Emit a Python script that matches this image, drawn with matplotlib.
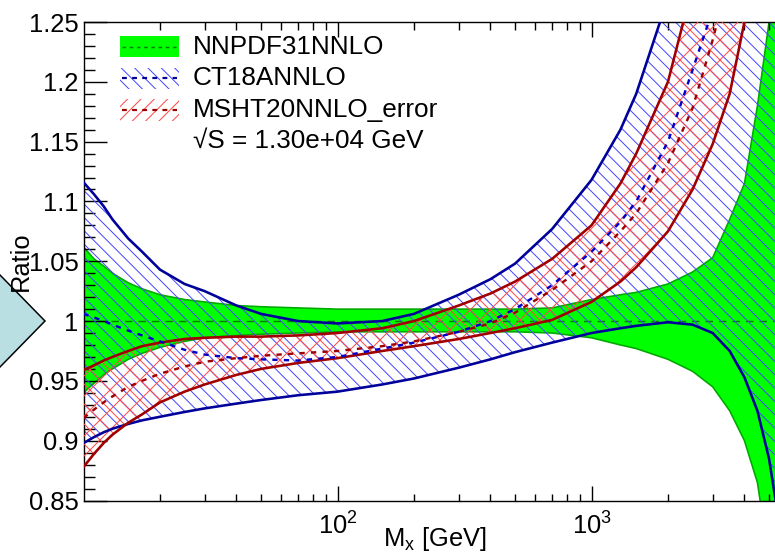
import numpy as np
import matplotlib
matplotlib.use('Agg')
import matplotlib.pyplot as plt
from matplotlib.patches import Polygon, Rectangle
from matplotlib.lines import Line2D
from matplotlib.ticker import FixedLocator, FixedFormatter, LogLocator, NullFormatter, MultipleLocator

# ---------------- data ----------------
mass = [10, 11, 12, 13, 15, 17, 20, 25, 30, 40, 50, 70, 100, 150, 200, 300, 400, 500,
        700, 1000, 1300, 1500, 2000, 2500, 3000, 3500, 4000, 4500, 5000, 5400]

nnpdf_up = [1.062, 1.052, 1.046, 1.040, 1.032, 1.027, 1.022, 1.018, 1.016, 1.013, 1.012, 1.011,
            1.010, 1.010, 1.010, 1.010, 1.010, 1.010, 1.011, 1.018, 1.022, 1.024, 1.031, 1.041,
            1.053, 1.085, 1.115, 1.180, 1.250, 1.310]
nnpdf_lo = [0.940, 0.948, 0.955, 0.960, 0.968, 0.973, 0.978, 0.983, 0.986, 0.988, 0.989, 0.990,
            0.991, 0.991, 0.991, 0.991, 0.991, 0.991, 0.990, 0.986, 0.980, 0.977, 0.968, 0.958,
            0.945, 0.925, 0.900, 0.865, 0.800, 0.750]
nnpdf_central = 1.0

ct18_up = [1.116, 1.106, 1.096, 1.085, 1.069, 1.058, 1.043, 1.031, 1.025, 1.013, 1.006, 1.000,
           0.998, 1.000, 1.006, 1.022, 1.035, 1.048, 1.077, 1.118, 1.160, 1.190, 1.270, 1.360,
           1.450, 1.550, 1.650, 1.750, 1.850, 1.900]
ct18_lo = [0.898, 0.903, 0.907, 0.910, 0.914, 0.917, 0.920, 0.924, 0.927, 0.931, 0.934, 0.938,
           0.941, 0.947, 0.952, 0.961, 0.968, 0.974, 0.982, 0.990, 0.994, 0.996, 0.999, 0.997,
           0.990, 0.975, 0.953, 0.925, 0.885, 0.840]
ct18_c = [1.006, 1.003, 1.000, 0.997, 0.992, 0.988, 0.983, 0.976, 0.972, 0.969, 0.968, 0.967,
          0.970, 0.977, 0.982, 0.991, 1.000, 1.010, 1.030, 1.058, 1.083, 1.100, 1.150, 1.210,
          1.260, 1.320, 1.380, 1.440, 1.500, 1.550]

msht_up = [0.959, 0.963, 0.967, 0.970, 0.975, 0.979, 0.982, 0.985, 0.986, 0.987, 0.987, 0.988,
           0.990, 0.994, 1.000, 1.013, 1.023, 1.033, 1.052, 1.080, 1.115, 1.140, 1.200, 1.280,
           1.360, 1.450, 1.550, 1.650, 1.750, 1.800]
msht_lo = [0.878, 0.889, 0.898, 0.905, 0.915, 0.922, 0.932, 0.941, 0.947, 0.955, 0.960, 0.965,
           0.969, 0.975, 0.979, 0.985, 0.990, 0.994, 1.001, 1.016, 1.033, 1.045, 1.075, 1.110,
           1.148, 1.190, 1.250, 1.320, 1.400, 1.450]
msht_c = [0.919, 0.926, 0.932, 0.937, 0.945, 0.950, 0.956, 0.962, 0.966, 0.969, 0.971, 0.973,
          0.975, 0.979, 0.983, 0.991, 0.998, 1.007, 1.026, 1.050, 1.075, 1.090, 1.132, 1.178,
          1.235, 1.290, 1.350, 1.410, 1.470, 1.520]

legend_labels = ['NNPDF31NNLO', 'CT18ANNLO', 'MSHT20NNLO_error', '\u221aS = 1.30e+04 GeV']
x_ticks = [100, 1000]
x_ticklabels = ['$10^{2}$', '$10^{3}$']
y_ticks = [0.85, 0.9, 0.95, 1.0, 1.05, 1.1, 1.15, 1.2, 1.25]
y_ticklabels = ['0.85', '0.9', '0.95', '1', '1.05', '1.1', '1.15', '1.2', '1.25']

# ---------------- style ----------------
W, H, DPI = 775, 555, 120
PT = 72.0 / DPI          # points per pixel
FS = 15.3

plt.rcParams['font.family'] = ['Liberation Sans', 'DejaVu Sans']
plt.rcParams['mathtext.fontset'] = 'custom'
plt.rcParams['mathtext.rm'] = 'Liberation Sans'
plt.rcParams['mathtext.it'] = 'Liberation Sans:italic'
plt.rcParams['mathtext.bf'] = 'Liberation Sans:bold'
plt.rcParams['hatch.linewidth'] = 1.0 * PT

GREEN = '#00ff00'
GREEN_EDGE = '#00a800'
GREEN_DASH = '#008000'
BLUE_HATCH = '#4848ff'
NAVY = '#00009a'
BLUE_DASH = '#0000c8'
RED_HATCH = '#ff4848'
DARKRED = '#a00000'

fig = plt.figure(figsize=(W / DPI, H / DPI), dpi=DPI)

def fx(p):
    return p / W

def fy(p):
    return 1 - p / H

# background diamond shape at left
fig.patches.append(Polygon([(fx(-46), fy(321)), (fx(0), fy(275)), (fx(45), fy(321)), (fx(0), fy(367))],
                           closed=True, transform=fig.transFigure, facecolor='#b9dfe3',
                           edgecolor='black', linewidth=1.5 * PT, zorder=0))

left_px, right_px, top_px, bot_px = 83.5, 775, 22, 500.5
ax = fig.add_axes([fx(left_px), fy(bot_px), (right_px - left_px) / W, (bot_px - top_px) / H])
ax.set_facecolor('none')
ax.set_xscale('log')
decade_px = 254.0
ax.set_xlim(10, 10 ** (1 + (right_px - left_px) / decade_px))
ax.set_ylim(0.85, 1.25)

# bands
ax.fill_between(mass, nnpdf_lo, nnpdf_up, facecolor=GREEN, edgecolor=GREEN_EDGE,
                linewidth=1.6 * PT, zorder=1)
ax.axhline(nnpdf_central, color=GREEN_DASH, lw=1.5 * PT, dashes=(5 * 1.0, 4 * 1.0), zorder=1.5)
ax.fill_between(mass, ct18_lo, ct18_up, facecolor='none', edgecolor=BLUE_HATCH,
                linewidth=0, hatch='\\\\\\', zorder=2)
ax.fill_between(mass, msht_lo, msht_up, facecolor='none', edgecolor=RED_HATCH,
                linewidth=0, hatch='xx', zorder=3)

# lines
for arr in (ct18_up, ct18_lo):
    ax.plot(mass, arr, color=NAVY, lw=2.6 * PT, zorder=5)
ax.plot(mass, ct18_c, color=BLUE_DASH, lw=2.4 * PT, dashes=(2.2, 2.6), zorder=6)
for arr in (msht_up, msht_lo):
    ax.plot(mass, arr, color=DARKRED, lw=2.6 * PT, zorder=5)
ax.plot(mass, msht_c, color=DARKRED, lw=2.4 * PT, dashes=(2.2, 2.6), zorder=6)

# axes styling
for s in ('left', 'bottom', 'top'):
    ax.spines[s].set_linewidth(1.4 * PT)
    ax.spines[s].set_color('black')
ax.spines['right'].set_visible(False)

ax.xaxis.set_major_locator(FixedLocator(x_ticks))
ax.xaxis.set_major_formatter(FixedFormatter(x_ticklabels))
ax.xaxis.set_minor_locator(LogLocator(base=10, subs=np.arange(2, 10), numticks=20))
ax.xaxis.set_minor_formatter(NullFormatter())
ax.set_yticks(y_ticks)
ax.set_yticklabels(y_ticklabels)
ax.yaxis.set_minor_locator(MultipleLocator(0.01))

ax.tick_params(axis='x', which='major', direction='in', length=15 * PT, width=1.4 * PT,
               top=True, bottom=True, labelsize=FS, pad=7.0)
ax.tick_params(axis='x', which='minor', direction='in', length=7.5 * PT, width=1.4 * PT,
               top=True, bottom=True)
ax.tick_params(axis='y', which='major', direction='in', length=23 * PT, width=1.4 * PT,
               left=True, right=False, labelsize=FS, pad=3.0)
ax.tick_params(axis='y', which='minor', direction='in', length=10.5 * PT, width=1.4 * PT,
               left=True, right=False)

# axis titles
fig.text(fx(21), fy(261), 'Ratio', rotation=90, ha='center', va='center', fontsize=FS)
fig.text(fx(487), fy(546), 'M$_{\\mathrm{x}}$ [GeV]', ha='right', va='baseline', fontsize=FS)

# legend (manual, ROOT-like)
sw_x0, sw_w, sw_h = 120, 59, 21
rows = [46.5, 78, 110]
# green swatch
fig.patches.append(Rectangle((fx(sw_x0), fy(rows[0] + sw_h / 2)), sw_w / W, sw_h / H,
                             transform=fig.transFigure, facecolor=GREEN, edgecolor='none', zorder=10))
fig.lines.append(Line2D([fx(sw_x0 + 2), fx(sw_x0 + sw_w - 2)], [fy(rows[0])] * 2, transform=fig.transFigure,
                        color=GREEN_DASH, lw=1.5 * PT, dashes=(2.4, 2.4), zorder=11))
# blue swatch
fig.patches.append(Rectangle((fx(sw_x0), fy(rows[1] + sw_h / 2)), sw_w / W, sw_h / H,
                             transform=fig.transFigure, facecolor='none', edgecolor=BLUE_HATCH,
                             linewidth=0, hatch='\\\\\\', zorder=10))
fig.lines.append(Line2D([fx(sw_x0 + 2), fx(sw_x0 + sw_w - 2)], [fy(rows[1])] * 2, transform=fig.transFigure,
                        color=NAVY, lw=2.2 * PT, dashes=(2.2, 2.4), zorder=11))
# red swatch
fig.patches.append(Rectangle((fx(sw_x0), fy(rows[2] + sw_h / 2)), sw_w / W, sw_h / H,
                             transform=fig.transFigure, facecolor='none', edgecolor=RED_HATCH,
                             linewidth=0, hatch='///', zorder=10))
fig.lines.append(Line2D([fx(sw_x0 + 2), fx(sw_x0 + sw_w - 2)], [fy(rows[2])] * 2, transform=fig.transFigure,
                        color=DARKRED, lw=2.2 * PT, dashes=(2.2, 2.4), zorder=11))

baselines = [53.5, 85, 116.5, 148]
for lab, b in zip(legend_labels, baselines):
    fig.text(fx(193), fy(b), lab, ha='left', va='baseline', fontsize=FS + 0.4, zorder=12)

fig.savefig('out.png', dpi=DPI)
